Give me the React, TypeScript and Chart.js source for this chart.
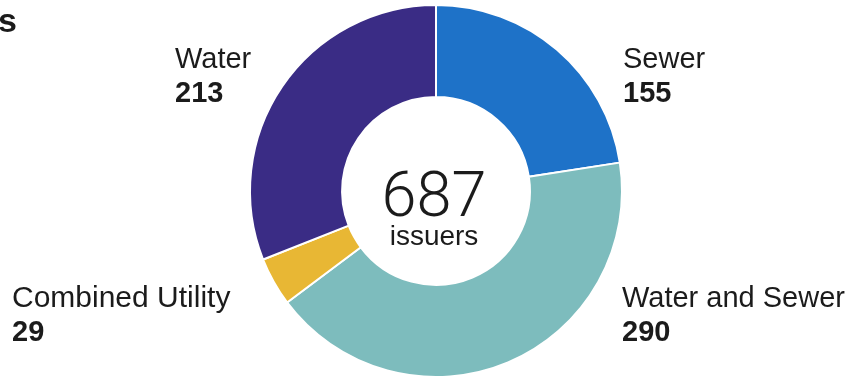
import React, { useEffect, useRef } from "react";
import { Chart, registerables } from "chart.js";

Chart.register(...registerables);

const categories = ["Sewer", "Water and Sewer", "Combined Utility", "Water"];
const values = [155, 290, 29, 213];
const colors = ["#1e72c8", "#7dbcbd", "#e8b734", "#3a2c85"];
const centerLabel = "issuers";
const titleFragment = "s";

const FONT = "'Liberation Sans', Arial, sans-serif";
const TEXT = "#1b1b1b";

// label anchor layout (text positions only)
const labelLayout = [
  { x: 623, y: 68, size: 29 },
  { x: 622, y: 307, size: 29 },
  { x: 12, y: 307, size: 30 },
  { x: 175, y: 68, size: 29 },
];

const textPlugin = {
  id: "textPlugin",
  afterDraw(chart: any) {
    const ctx = chart.ctx;
    ctx.save();
    ctx.fillStyle = TEXT;
    ctx.textBaseline = "alphabetic";
    // title fragment
    ctx.textAlign = "left";
    ctx.font = `bold 34px ${FONT}`;
    ctx.fillText(titleFragment, -2, 32);
    // labels
    categories.forEach((c, i) => {
      const p = labelLayout[i];
      ctx.textAlign = "left";
      ctx.font = `${p.size}px ${FONT}`;
      ctx.fillText(c, p.x, p.y);
      ctx.font = `bold 29px ${FONT}`;
      ctx.fillText(String(values[i]), p.x, p.y + 34);
    });
    // center
    const total = values.reduce((a, b) => a + b, 0);
    const meta = chart.getDatasetMeta(0);
    const arc = meta.data[0];
    const cx = arc.x - 2;
    const cy = arc.y;
    ctx.textAlign = "center";
    ctx.font = `300 63px Roboto, ${FONT}`;
    ctx.fillText(String(total), cx, cy + 25);
    ctx.font = `28px ${FONT}`;
    ctx.fillText(centerLabel, cx, cy + 54);
    ctx.restore();
  },
};

export default function App() {
  const ref = useRef<HTMLCanvasElement | null>(null);
  useEffect(() => {
    if (!ref.current) return;
    const chart = new Chart(ref.current, {
      type: "doughnut",
      data: {
        labels: categories,
        datasets: [
          {
            data: values,
            backgroundColor: colors,
            borderColor: "#ffffff",
            borderWidth: 2,
            hoverOffset: 0,
          },
        ],
      },
      options: {
        responsive: false,
        animation: false,
        cutout: "50.5%",
        layout: { padding: { left: 249, right: 223, top: 1, bottom: 1 } },
        plugins: {
          legend: { display: false },
          tooltip: { enabled: false },
        },
      },
      plugins: [textPlugin],
    });
    return () => chart.destroy();
  }, []);
  return (
    <div style={{ position: "fixed", left: 0, top: 0, width: 846, height: 382, background: "#fff" }}>
      <canvas ref={ref} width={846} height={382} style={{ width: 846, height: 382 }} />
    </div>
  );
}
